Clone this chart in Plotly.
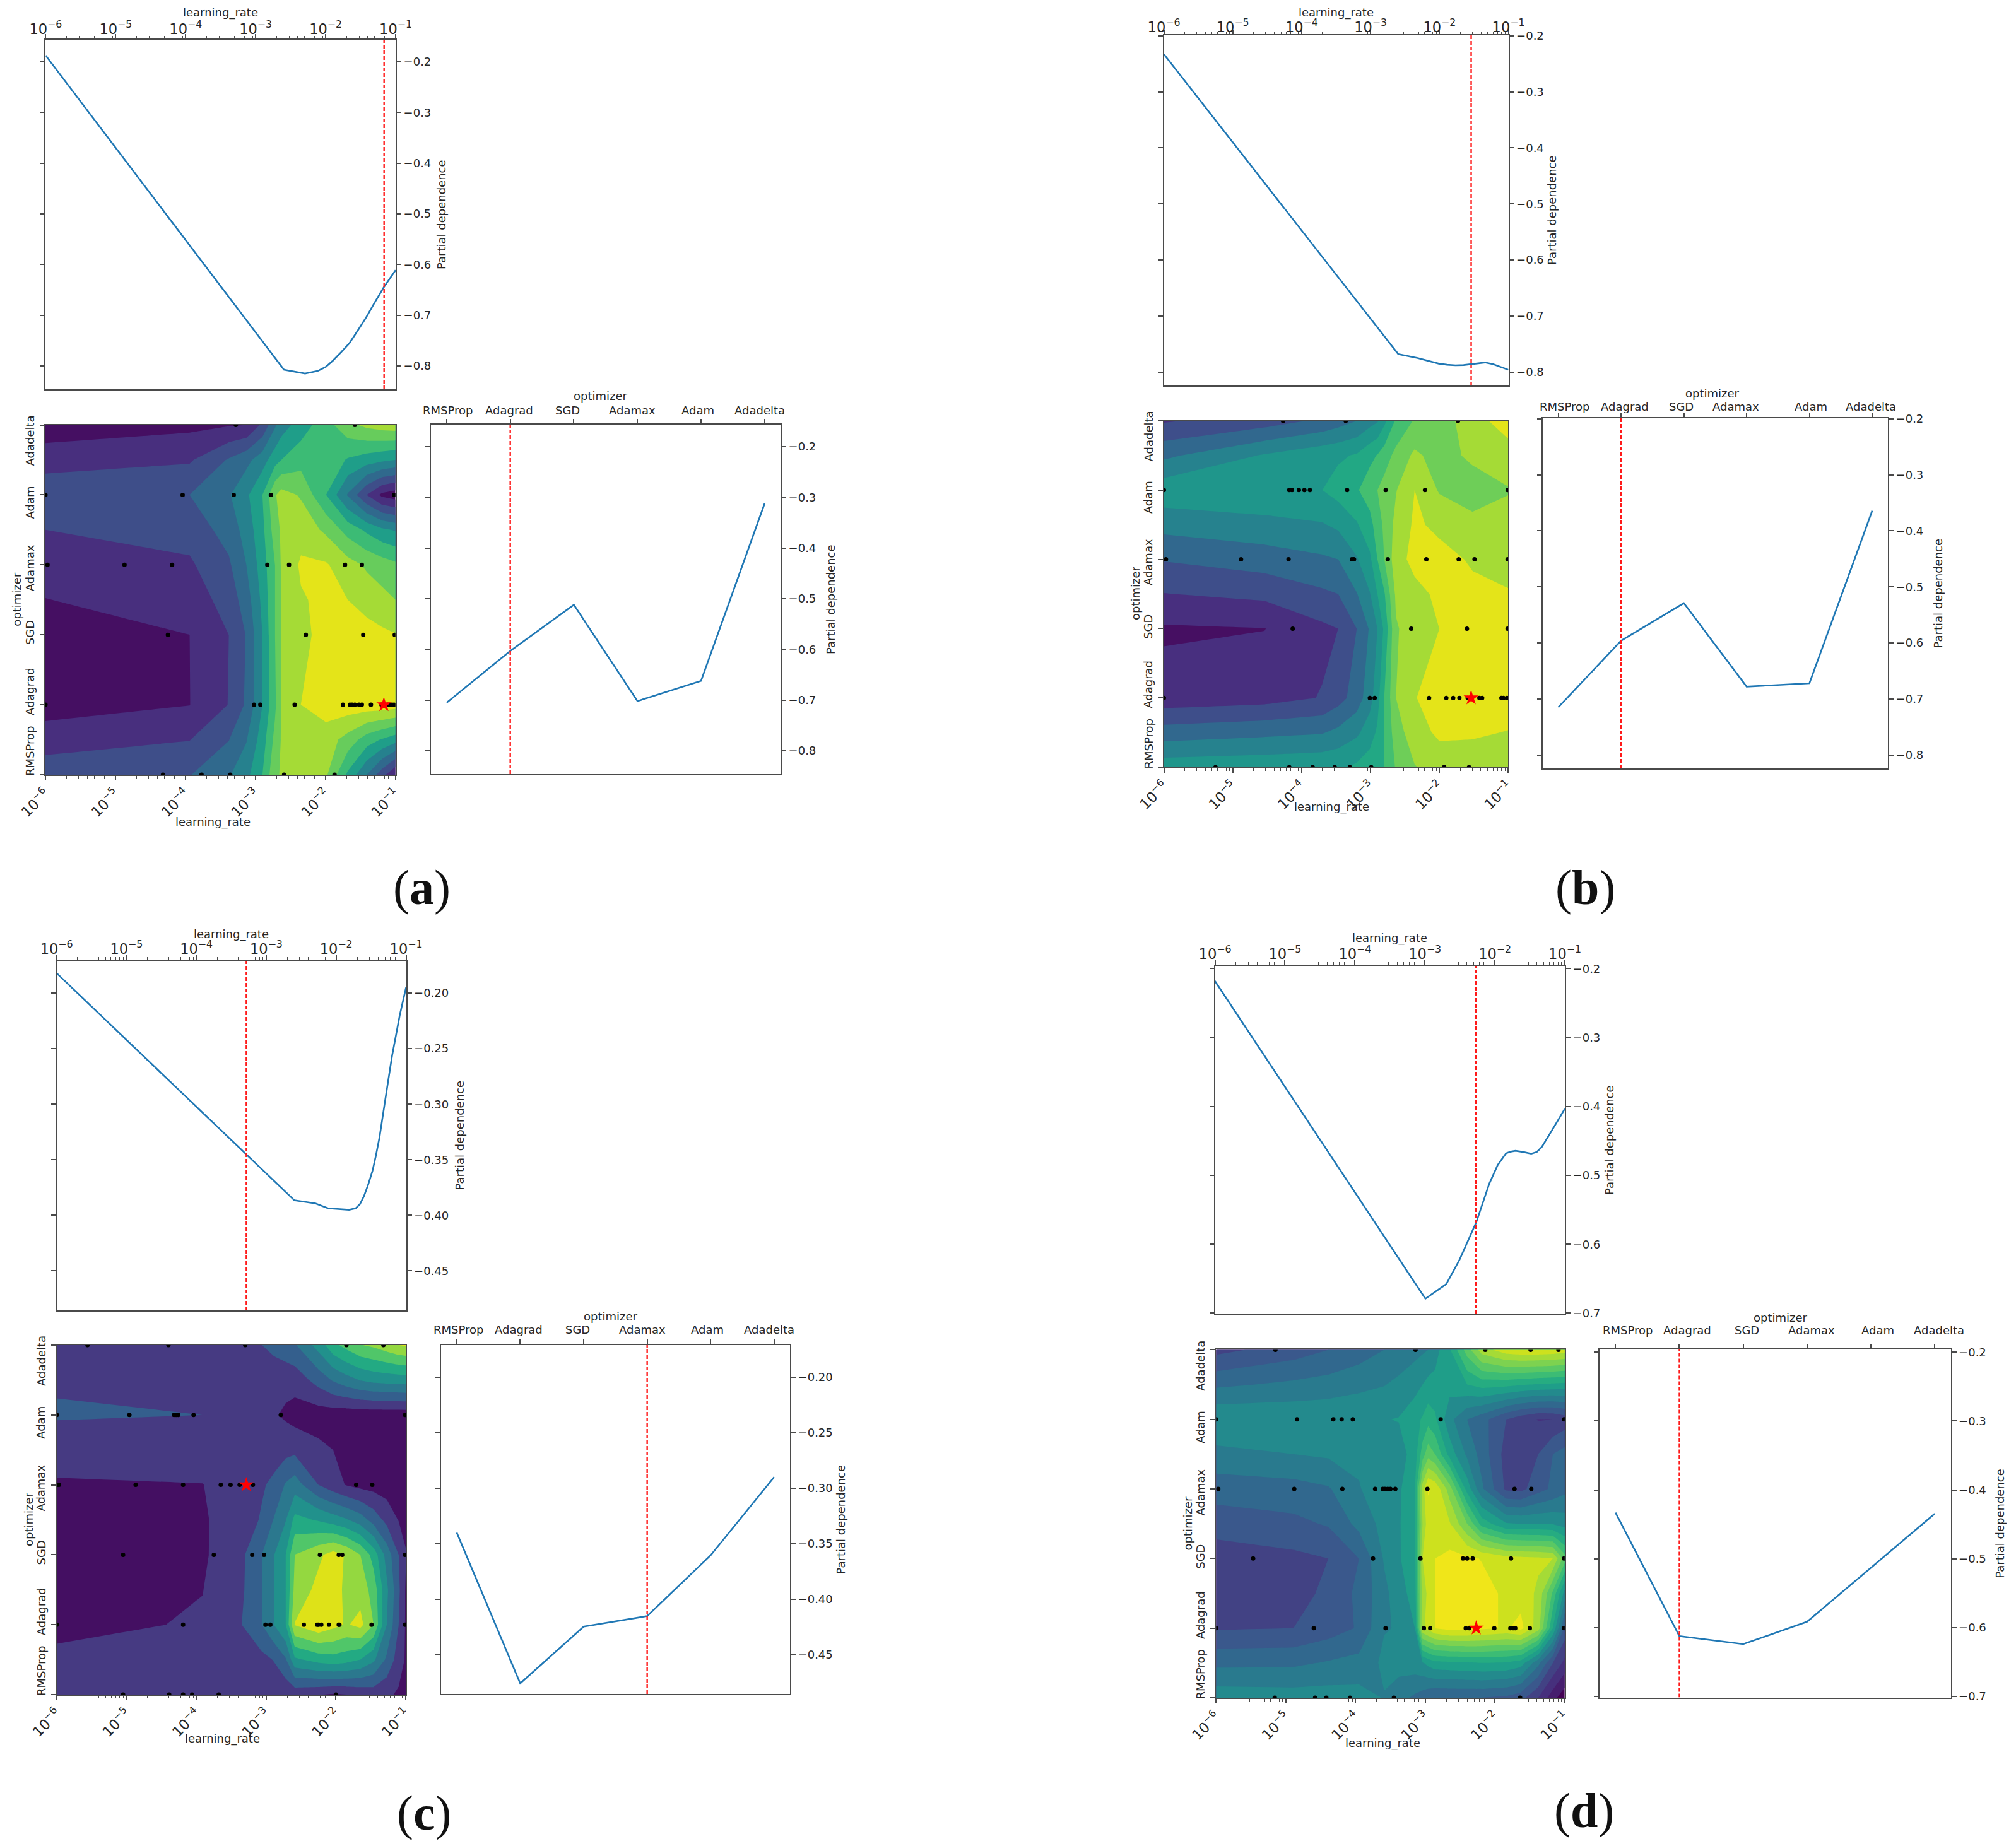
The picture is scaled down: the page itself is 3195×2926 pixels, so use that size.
import plotly.graph_objects as go

W, H = 3195, 2926
OPTIMIZERS = ["RMSProp", "Adagrad", "SGD", "Adamax", "Adam", "Adadelta"]
LR_TITLE = "learning_rate"
PD_TITLE = "Partial dependence"
OPT_TITLE = "optimizer"

# ---- 1-D partial dependence on learning rate (log10 lr, value)
lr_a = [-6, -2.595, -2.295, -2.115, -2.0, -1.90, -1.78, -1.66, -1.54, -1.42, -1.30, -1.17, -1.0]
pd_lr_a = [-0.1876, -0.8075, -0.815, -0.81, -0.802, -0.79, -0.773, -0.755, -0.730, -0.704, -0.675, -0.645, -0.611]
lr_b = [-6, -2.598, -2.317, -2.01, -1.89, -1.767, -1.65, -1.54, -1.44, -1.34, -1.22, -1.1, -1.0]
pd_lr_b = [-0.2325, -0.768, -0.775, -0.785, -0.787, -0.788, -0.7875, -0.786, -0.784, -0.783, -0.786, -0.791, -0.796]
lr_c = [-6, -2.597, -2.296, -2.115, -1.815, -1.72, -1.66, -1.60, -1.54, -1.48, -1.43, -1.38, -1.29, -1.2, -1.09, -1.0]
pd_lr_c = [-0.182, -0.3865, -0.3893, -0.3937, -0.395, -0.3937, -0.390, -0.3825, -0.372, -0.36, -0.346, -0.33, -0.293, -0.2566, -0.22, -0.195]
lr_d = [-6, -2.993, -2.693, -2.503, -2.265, -2.08, -1.96, -1.84, -1.77, -1.706, -1.6, -1.48, -1.40, -1.33, -1.18, -1.0]
pd_lr_d = [-0.218, -0.679, -0.6576, -0.622, -0.5678, -0.512, -0.485, -0.468, -0.4655, -0.4644, -0.466, -0.4686, -0.466, -0.459, -0.434, -0.4034]

# ---- 1-D partial dependence on optimizer
pd_opt_a = [-0.705, -0.603, -0.512, -0.702, -0.662, -0.312]
pd_opt_b = [-0.715, -0.596, -0.529, -0.678, -0.672, -0.364]
pd_opt_c = [-0.340, -0.476, -0.4248, -0.4153, -0.3605, -0.290]
pd_opt_d = [-0.433, -0.6123, -0.624, -0.5915, -0.513, -0.4346]

# ---- best point: log10 lr and optimizer index
best_lr = [-1.165, -1.54, -3.285, -2.27]
best_opt = [1, 1, 3, 1]

# ---- contour tables (band units)
rows_ab = [0, 0.5, 1, 2, 2.5, 3, 3.5, 4, 4.5, 5]
rows_cd = [0, 0.5, 1, 1.5, 2, 2.5, 3, 3.5, 4, 4.5, 5]
cols_a = [-6, -3.94, -3.38, -3.13, -2.90, -2.72, -2.63, -2.35, -1.99, -1.68, -1.41, -1.19, -1]
z_a = [
    [2.58, 2.95, 3.9, 4.7, 6.0, 7.8, 8.1, 8.4, 8.15, 5.8, 4.0, 2.4, 1.0],
    [1.55, 1.97, 2.97, 3.93, 5.5, 7.3, 8.07, 8.6, 8.5, 7.6, 6.5, 5.9, 5.4],
    [.52, .98, 2.03, 3.15, 5.0, 6.8, 8.05, 9.0, 9.5, 9.6, 9.6, 9.6, 9.5],
    [.57, 1.0, 2.0, 3.05, 5.0, 7.0, 8.05, 8.7, 9.4, 9.5, 9.4, 9.2, 9.05],
    [.98, 1.42, 2.42, 3.5, 5.25, 7.0, 8.07, 8.9, 9.25, 9.0, 8.6, 8.3, 8.0],
    [1.39, 1.85, 2.85, 4.0, 5.5, 7.0, 8.1, 9.15, 9.1, 8.4, 7.85, 7.5, 7.2],
    [2.0, 2.4, 3.4, 4.4, 5.75, 7.5, 8.15, 8.6, 7.8, 6.6, 5.8, 5.2, 4.9],
    [2.7, 3.0, 3.9, 4.8, 6.0, 7.9, 8.4, 7.9, 6.0, 3.9, 2.0, .75, .4],
    [1.55, 1.88, 3.1, 3.7, 4.55, 5.6, 6.0, 6.6, 6.7, 5.9, 5.5, 5.2, 5.0],
    [.41, .75, .92, 1.0, 2.2, 3.85, 4.5, 5.5, 6.6, 7.7, 8.25, 8.5, 8.6],
]
cols_b = [-6, -4.54, -3.70, -3.47, -3.20, -3.01, -2.90, -2.80, -2.63, -2.36, -2.00, -1.52, -1]
z_b = [
    [5.57, 5.7, 5.82, 5.88, 6.17, 6.5, 6.7, 7.0, 8.1, 8.95, 9.4, 9.6, 9.4],
    [3.47, 3.75, 3.93, 4.25, 4.8, 5.55, 6.15, 7.0, 8.55, 9.55, 10.2, 10.1, 9.97],
    [1.38, 1.6, 2.05, 2.6, 3.45, 4.6, 5.6, 7.0, 9.0, 9.97, 10.3, 10.5, 10.4],
    [.87, .98, 1.8, 2.0, 3.0, 4.1, 5.0, 6.2, 8.9, 9.5, 10.0, 10.3, 10.3],
    [1.97, 2.25, 2.83, 3.0, 3.95, 4.95, 6.0, 6.9, 9.2, 9.7, 10.2, 10.2, 10.1],
    [3.07, 3.5, 3.85, 4.0, 4.9, 5.8, 7.0, 8.0, 9.6, 10.3, 10.3, 9.9, 9.5],
    [4.36, 4.67, 4.92, 5.2, 5.9, 6.65, 7.5, 8.2, 9.3, 10.15, 9.8, 9.3, 9.3],
    [5.65, 5.85, 6.0, 6.4, 6.9, 7.5, 8.0, 8.4, 8.95, 10.0, 8.9, 8.5, 8.95],
    [3.78, 5.1, 5.7, 5.85, 6.1, 6.75, 7.05, 7.5, 8.3, 9.2, 8.6, 9.2, 9.45],
    [1.9, 2.5, 3.2, 3.55, 4.0, 4.6, 4.9, 5.75, 7.15, 8.1, 8.55, 9.5, 10.6],
]
cols_c = [-6, -3.91, -3.35, -3.06, -2.89, -2.72, -2.59, -2.25, -2.04, -1.85, -1.65, -1.46, -1.27, -1.10, -1]
z_c = [
    [1.81, 1.6, 1.4, 1.3, 1.25, 1.25, 1.3, 1.05, .9, 1.0, 1.2, 1.4, 1.2, .85, .5],
    [1.25, 1.3, 1.45, 1.7, 2.05, 2.9, 4.8, 5.4, 5.6, 5.4, 5.0, 4.2, 2.8, 1.5, .9],
    [.7, 1.1, 2.0, 3.0, 4.0, 5.0, 8.05, 8.8, 8.3, 7.9, 8.3, 7.0, 4.0, 2.0, .9],
    [.6, .98, 1.85, 3.0, 3.95, 5.0, 7.3, 8.3, 8.4, 7.8, 7.6, 6.6, 4.2, 2.2, .9],
    [.5, .85, 1.8, 3.0, 3.95, 5.0, 7.0, 7.8, 8.4, 7.9, 7.0, 5.6, 3.6, 2.0, 1.1],
    [.7, .9, 1.5, 2.1, 3.05, 3.95, 5.3, 4.9, 4.5, 4.1, 3.5, 2.6, 1.7, .95, .6],
    [.87, .98, 1.6, 1.9, 2.2, 3.1, 3.5, 2.0, 1.4, .95, .7, .6, .5, .4, .3],
    [1.5, 1.45, 1.5, 1.55, 1.6, 1.65, 1.75, 1.25, 1.0, .6, .45, .4, .35, .3, .3],
    [2.09, 2.0, 1.7, 1.3, 1.1, .85, .6, .5, .45, .4, .4, .4, .4, .4, .4],
    [1.9, 1.7, 1.5, 1.4, 1.35, 1.3, 1.4, 2.4, 3.1, 3.6, 4.05, 4.3, 4.4, 4.45, 4.5],
    [1.7, 1.8, 1.9, 2.0, 2.3, 2.65, 2.9, 4.4, 5.7, 6.35, 6.95, 7.2, 7.6, 8.0, 8.1],
]
cols_d = [-6, -4.89, -4.39, -3.95, -3.59, -3.38, -3.15, -3.04, -2.96, -2.86, -2.65, -2.40, -2.19, -1.84, -1.63, -1.38, -1.17, -1]
z_d = [
    [7.6, 7.5, 7.5, 7.4, 6.95, 6.4, 5.8, 5.5, 5.2, 5.0, 5.0, 5.0, 5.0, 4.8, 4.4, 3.0, 1.4, .3],
    [5.75, 5.8, 6.1, 6.35, 7.2, 7.4, 7.6, 7.9, 8.3, 8.7, 8.8, 8.9, 9.0, 8.9, 8.5, 6.3, 4.0, 2.7],
    [3.9, 4.0, 4.5, 5.1, 6.95, 7.05, 8.0, 13.8, 14.3, 15.0, 15.4, 15.4, 15.2, 14.9, 15.3, 13.5, 9.0, 4.7],
    [3.65, 3.4, 4.35, 5.2, 6.75, 7.5, 8.5, 13.5, 14.2, 15.0, 15.3, 15.3, 15.4, 14.8, 14.6, 13.8, 10.8, 7.6],
    [3.45, 3.75, 4.0, 5.0, 7.1, 7.9, 8.7, 14.0, 14.3, 15.0, 15.3, 15.2, 14.95, 14.4, 14.3, 14.2, 14.0, 11.5],
    [4.45, 4.75, 5.1, 6.3, 7.35, 7.9, 8.8, 13.0, 14.6, 14.7, 14.1, 12.0, 9.6, 8.1, 8.0, 8.0, 7.9, 7.6],
    [5.45, 5.6, 5.9, 6.95, 7.5, 7.8, 9.0, 13.5, 15.1, 14.8, 12.5, 8.6, 6.2, 3.8, 3.7, 4.6, 5.2, 5.7],
    [6.7, 7.0, 7.15, 7.15, 7.3, 7.5, 8.5, 10.5, 11.6, 11.0, 8.6, 6.8, 5.6, 3.6, 3.4, 4.0, 5.0, 5.4],
    [7.9, 7.85, 7.85, 7.9, 7.95, 8.05, 8.7, 9.1, 9.6, 9.2, 7.3, 6.0, 5.4, 4.0, 3.4, 2.95, 3.0, 3.4],
    [5.8, 6.2, 6.4, 6.7, 6.95, 7.25, 7.6, 8.0, 8.3, 8.3, 8.4, 9.0, 9.4, 9.3, 9.1, 8.9, 8.8, 8.7],
    [3.7, 4.5, 5.0, 5.5, 6.0, 6.3, 6.7, 6.85, 7.0, 7.6, 8.9, 11.5, 13.5, 14.6, 14.8, 14.8, 14.7, 14.5],
]

# ---- band colours
pal_a = ["#450f62", "#482f7e", "#3e4e89", "#30698d", "#26818e", "#1f9e89", "#3cbb75", "#67cc5c", "#a5db36", "#e4e419"]
pal_b = ["#460f62", "#482f7f", "#3e4e8a", "#31688e", "#26828e", "#1f968b", "#22a884", "#44bf70", "#6ece58", "#a5db36", "#e4e419"]
pal_c = ["#440f62", "#463a82", "#345f8d", "#2b788e", "#21918c", "#23aa83", "#50c669", "#94d840", "#dee218"]
pal_d = ["#440154", "#461e6e", "#46307d", "#424284", "#3a588c", "#31688e", "#297a8e", "#238a8d", "#1f9e89", "#26ac81", "#3cbc75", "#5ac864", "#7dd250", "#a5db36", "#cde11e", "#f0e619"]

# ---- evaluated points: optimizer index -> log10 lr
pts_a = {5: [-3.28, -1.58], 4: [-6, -4.04, -3.31, -2.78, -1.02],
         3: [-5.97, -4.87, -4.19, -2.83, -2.52, -1.72, -1.48], 2: [-4.25, -2.28, -1.46, -1.01],
         1: [-6, -3.02, -2.93, -2.44, -1.75, -1.65, -1.62, -1.58, -1.52, -1.48, -1.35, -1.20, -1.11, -1.08, -1.05, -1.02],
         0: [-4.32, -3.77, -3.36, -2.59, -1.87]}
pts_b = {5: [-4.27, -3.36, -1.73], 4: [-6, -4.18, -4.14, -4.04, -3.96, -3.88, -3.34, -2.78, -2.21, -1.01],
         3: [-5.97, -4.88, -4.19, -3.27, -3.24, -2.75, -2.19, -1.72, -1.49, -1.01], 2: [-4.13, -2.41, -1.60, -1.01],
         1: [-6, -3.01, -2.94, -2.15, -1.90, -1.80, -1.71, -1.59, -1.42, -1.38, -1.10, -1.07, -1.02],
         0: [-5.25, -4.18, -3.84, -3.52, -3.30, -2.99, -1.93, -1.57]}
pts_c = {5: [-5.56, -4.40, -3.30, -1.85, -1.32], 4: [-6, -4.96, -4.32, -4.29, -4.26, -4.04, -2.79, -1.01],
         3: [-5.99, -5.97, -4.87, -4.19, -3.65, -3.51, -3.38, -3.19, -1.71, -1.48],
         2: [-5.05, -3.75, -3.20, -3.03, -2.23, -1.96, -1.91, -1.01],
         1: [-6, -4.19, -3.01, -2.94, -2.46, -2.27, -2.25, -2.21, -2.10, -1.96, -1.95, -1.49, -1.01],
         0: [-5.05, -4.39, -4.19, -4.06, -3.68, -2.0]}
pts_d = {5: [-5.15, -3.14, -2.14, -1.49, -1.09], 4: [-6, -4.84, -4.32, -4.20, -4.04, -2.78, -1.01],
         3: [-5.97, -4.88, -4.19, -3.72, -3.61, -3.58, -3.54, -3.50, -3.43, -2.97, -1.72, -1.48],
         2: [-5.47, -3.75, -3.07, -2.46, -2.40, -2.32, -1.77, -1.01],
         1: [-6, -4.60, -3.57, -3.02, -2.93, -2.42, -2.37, -2.01, -1.78, -1.74, -1.71, -1.50, -1.01],
         0: [-5.16, -4.58, -4.42, -4.08, -3.45, -1.64]}

# ---- axis ticks
pd_ticks_a = [-0.2, -0.3, -0.4, -0.5, -0.6, -0.7, -0.8]
pd_ticks_c = [-0.20, -0.25, -0.30, -0.35, -0.40, -0.45]
pd_ticks_d = [-0.2, -0.3, -0.4, -0.5, -0.6, -0.7]

# ---- layout: pixel rectangles (x0, y0, x1, y1) and label offsets
PANELS = [
    dict(tag="a", top=(72.4, 63, 627, 617), cont=(72, 673.5, 626.7, 1228), right=(682.7, 673, 1237, 1227),
         yr=(-0.846, -0.1565), lr=lr_a, pl=pd_lr_a, po=pd_opt_a, ticks=pd_ticks_a, fmt=".1f",
         cols=cols_a, rows=rows_ab, z=z_a, pal=pal_a, pts=pts_a, lab=(668, 1406),
         lr_off=(-12, 75), top_title=(-0.5, -43), tp=72, rp=79, tstand=-8,
         name_dx=[2, -2, -10, -8, -5, -8], name_dy=-23, opt_off=(-8, -45)),
    dict(tag="b", top=(1844.5, 56, 2390.5, 611), cont=(1844.5, 667, 2390.4, 1216), right=(2444.7, 663, 2992, 1218),
         yr=(-0.824, -0.199), lr=lr_b, pl=pd_lr_b, po=pd_opt_b, ticks=pd_ticks_a, fmt=".1f",
         cols=cols_b, rows=rows_ab, z=z_b, pal=pal_b, pts=pts_b, lab=(2512, 1406),
         lr_off=(-7, 63), top_title=(0, -36), tp=69, rp=79, tstand=-12,
         name_dx=[10, 6, -4, -17, 2, -2], name_dy=-19, opt_off=(-4, -40)),
    dict(tag="c", top=(89.6, 1523, 643.5, 2077), cont=(90, 2132, 643, 2686), right=(698.7, 2132, 1252, 2685),
         yr=(-0.4855, -0.171), lr=lr_c, pl=pd_lr_c, po=pd_opt_c, ticks=pd_ticks_c, fmt=".2f",
         cols=cols_c, rows=rows_cd, z=z_c, pal=pal_c, pts=pts_c, lab=(672, 2873),
         lr_off=(-14, 70), top_title=(0, -42), tp=84, rp=80, tstand=-6,
         name_dx=[3, -2, -10, -8, -5, -8], name_dy=-25, opt_off=(-7, -46)),
    dict(tag="d", top=(1925.5, 1531, 2480, 2083), cont=(1927.4, 2139.4, 2479.8, 2691), right=(2535, 2139, 3091.5, 2690.5),
         yr=(-0.7014, -0.196), lr=lr_d, pl=pd_lr_d, po=pd_opt_d, ticks=pd_ticks_d, fmt=".1f",
         cols=cols_d, rows=rows_cd, z=z_d, pal=pal_d, pts=pts_d, lab=(2510, 2869),
         lr_off=(-12, 72), top_title=(0, -44), tp=70, rp=78.5, tstand=-6,
         name_dx=[19, 13, 6, 7, 11, 7], name_dy=-30.5, opt_off=(9, -51)),
]
ROT_OFF = [-37, -21, -3, 5, 12, 25]

FONT = "DejaVu Sans"
TXT = "#262626"
AX = "#4a4a4a"
BLUE = "#1f77b4"
RED = "#ff1a1a"
LW = 2
FS = 18


def dom(rect):
    x0, y0, x1, y1 = rect
    return [x0 / W, x1 / W], [1 - y1 / H, 1 - y0 / H]


annotations = []


def note(text, x, y, angle=0, size=FS, family=FONT, color=TXT):
    annotations.append(dict(text=text, x=x / W, y=1 - y / H, xref="paper", yref="paper", showarrow=False,
                            xanchor="center", yanchor="middle", textangle=angle,
                            font=dict(size=size, family=family, color=color)))


fig = go.Figure()
n = 0


def new_axes(rect, xa, ya):
    global n
    n += 1
    dx, dy = dom(rect)
    sx = str(n)
    common = dict(showgrid=False, zeroline=False, showline=True, linecolor=AX, linewidth=LW, automargin=False,
                  tickcolor=AX, tickwidth=LW, tickfont=dict(size=FS, family=FONT, color=TXT))
    fig.layout["xaxis" + sx] = dict(domain=dx, anchor="y" + sx, **common, **xa)
    fig.layout["yaxis" + sx] = dict(domain=dy, anchor="x" + sx, **common, **ya)
    return "x" + sx, "y" + sx


LOGX = dict(type="log", range=[-6, -1], dtick=1, exponentformat="power", ticks="outside", ticklen=7,
            minor=dict(ticks="outside", ticklen=4, dtick="D1", tickcolor=AX, tickwidth=1), mirror=True)
DASH = dict(color=RED, width=2.4, dash="6px,3px")

for p in PANELS:
    lo, hi = p["yr"]
    # top: partial dependence vs learning rate
    xa, ya = new_axes(p["top"], dict(side="top", ticklabelstandoff=p["tstand"], **LOGX),
                      dict(side="right", range=[lo, hi], tickvals=p["ticks"], tickformat=p["fmt"], ticks="outside",
                           ticklen=7, mirror="ticks"))
    fig.add_trace(go.Scatter(x=[10 ** e for e in p["lr"]], y=p["pl"], mode="lines",
                             line=dict(color=BLUE, width=2.6), xaxis=xa, yaxis=ya, showlegend=False))
    best = 10 ** best_lr[PANELS.index(p)]
    fig.add_trace(go.Scatter(x=[best, best], y=[lo, hi], mode="lines", line=DASH, xaxis=xa, yaxis=ya, showlegend=False))
    x0, y0, x1, y1 = p["top"]
    note(LR_TITLE, (x0 + x1) / 2 + p["top_title"][0], y0 + p["top_title"][1])
    note(PD_TITLE, x1 + p["tp"], (y0 + y1) / 2, angle=-90)

    # middle: contour of both dimensions
    xa, ya = new_axes(p["cont"], dict(side="bottom", tickangle=-45, **LOGX),
                      dict(range=[0, 5], tickvals=list(range(6)), showticklabels=False, ticks="outside", ticklen=7, mirror=True))
    N = len(p["pal"])
    scale = []
    for i, c in enumerate(p["pal"]):
        scale += [[i / N, c], [(i + 1) / N, c]]
    fig.add_trace(go.Contour(x=[10 ** e for e in p["cols"]], y=p["rows"], z=p["z"], zmin=0, zmax=N, autocontour=False,
                             contours=dict(start=1, end=N - 1, size=1, coloring="fill", showlines=False),
                             line=dict(width=0, smoothing=0), colorscale=scale, showscale=False,
                             xaxis=xa, yaxis=ya))
    xs, ys = [], []
    for opt, vals in p["pts"].items():
        xs += [10 ** e for e in vals]
        ys += [opt] * len(vals)
    fig.add_trace(go.Scatter(x=xs, y=ys, mode="markers", marker=dict(color="black", size=7), xaxis=xa, yaxis=ya, showlegend=False))
    fig.add_trace(go.Scatter(x=[best], y=[best_opt[PANELS.index(p)]], mode="markers",
                             marker=dict(color="#ff0000", size=18, symbol="star"), xaxis=xa, yaxis=ya, showlegend=False))
    x0, y0, x1, y1 = p["cont"]
    for i, name in enumerate(OPTIMIZERS):
        ty = y1 - (y1 - y0) * i / 5
        note(name, x0 - 25, ty + ROT_OFF[i], angle=-90)
    note(OPT_TITLE, x0 - 45, (y0 + y1) / 2 - 1, angle=-90)
    note(LR_TITLE, (x0 + x1) / 2 + p["lr_off"][0], y1 + p["lr_off"][1])

    # right: partial dependence vs optimizer
    xa, ya = new_axes(p["right"], dict(side="top", range=[-0.25, 5.25], tickvals=list(range(6)), showticklabels=False,
                                       ticks="outside", ticklen=7, mirror=True),
                      dict(side="right", range=[lo, hi], tickvals=p["ticks"], tickformat=p["fmt"], ticks="outside",
                           ticklen=7, mirror="ticks"))
    fig.add_trace(go.Scatter(x=list(range(6)), y=p["po"], mode="lines", line=dict(color=BLUE, width=2.6),
                             xaxis=xa, yaxis=ya, showlegend=False))
    bo = best_opt[PANELS.index(p)]
    fig.add_trace(go.Scatter(x=[bo, bo], y=[lo, hi], mode="lines", line=DASH, xaxis=xa, yaxis=ya, showlegend=False))
    x0, y0, x1, y1 = p["right"]
    w = (x1 - x0) / 5.5
    for i, name in enumerate(OPTIMIZERS):
        note(name, x0 + w * (i + 0.25) + p["name_dx"][i], y0 + p["name_dy"])
    note(OPT_TITLE, (x0 + x1) / 2 + p["opt_off"][0], y0 + p["opt_off"][1])
    note(PD_TITLE, x1 + p["rp"], (y0 + y1) / 2, angle=-90)

    # panel letter
    note("(<b>%s</b>)" % p["tag"], p["lab"][0], p["lab"][1], size=78, family="Liberation Serif", color="#111111")

fig.update_layout(width=W, height=H, margin=dict(l=0, r=0, t=0, b=0, autoexpand=False), paper_bgcolor="white", plot_bgcolor="white",
                  autosize=False, annotations=annotations, showlegend=False)
fig.write_html("out.html", config={"displayModeBar": False},
               post_script="document.body.style.margin='0';document.body.style.padding='0';")
